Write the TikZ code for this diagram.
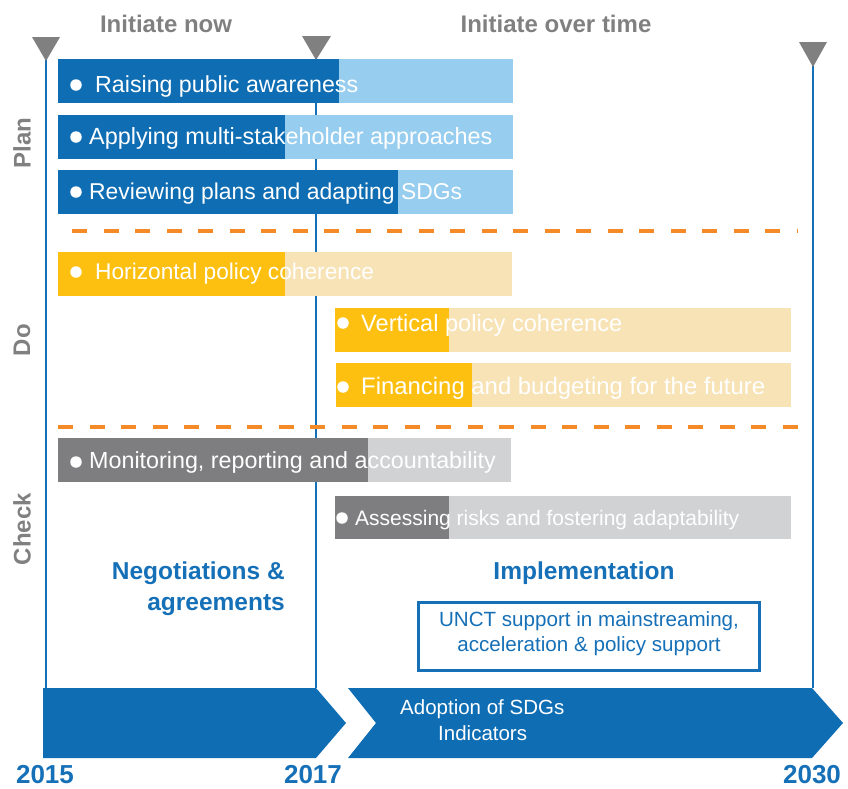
\documentclass[tikz,border=0pt]{standalone}
\usepackage{fontspec}
\setmainfont{Liberation Sans}
\definecolor{dblue}{HTML}{0F6DB3}
\definecolor{lblue}{HTML}{97CDEF}
\definecolor{dyel}{HTML}{FDC010}
\definecolor{lyel}{HTML}{F7E3B6}
\definecolor{dgray}{HTML}{7E7E80}
\definecolor{lgray}{HTML}{D1D2D4}
\definecolor{orng}{HTML}{F58A29}
\definecolor{labgray}{HTML}{808080}
\definecolor{tblue}{HTML}{1570B7}
\newcommand\fs[1]{\fontsize{#1}{#1}\selectfont}
\tikzset{
  bartext/.style={anchor=base west, text=white, inner sep=0pt},
  bullet/.style={circle, fill=white, inner sep=0pt, minimum size=11.5pt},
  vline/.style={draw=tblue, line width=2.6pt},
  marker/.style={fill=labgray},
  sep/.style={draw=orng, line width=4pt, dash pattern=on 15pt off 16.5pt},
  toplabel/.style={text=labgray, font=\bfseries\fs{24}, inner sep=0pt},
  sidelabel/.style={text=labgray, font=\bfseries\fs{24}, rotate=90, inner sep=0pt},
  bluehead/.style={text=tblue, font=\bfseries\fs{24.5}, inner sep=0pt},
  year/.style={text=tblue, font=\bfseries\fs{26}, anchor=base, inner sep=0pt},
  arrowtext/.style={text=white, font=\fs{20.5}, anchor=base west, inner sep=0pt},
}
\begin{document}
\begin{tikzpicture}[x=1pt,y=-1pt]
\useasboundingbox (0,0) rectangle (848,788);

% vertical time lines
\coordinate (l15t) at (46,58);  \coordinate (l15b) at (46,688);
\coordinate (l17t) at (316,58); \coordinate (l17b) at (316,688);
\coordinate (l30t) at (813,64); \coordinate (l30b) at (813,688);
\draw[vline] (l15t) -- (l15b);
\draw[vline] (l17t) -- (l17b);
\draw[vline] (l30t) -- (l30b);

% markers
\fill[marker] (32,37) -- (60,37) -- (46,61) -- cycle;
\fill[marker] (302,36) -- (331,36) -- (316,60) -- cycle;
\fill[marker] (799,42) -- (827,42) -- (813,67) -- cycle;

% top labels
\node[toplabel] (now) at (166,24) {Initiate now};
\node[toplabel] (over) at (556,24) {Initiate over time};

% side labels
\node[sidelabel] (plan) at (22,143) {Plan};
\node[sidelabel] (do) at (22,340) {Do};
\node[sidelabel] (check) at (22,529) {Check};

% Plan bars
\fill[lblue] (58,59) rectangle (513,103);  \fill[dblue] (58,59) rectangle (339,103);
\fill[lblue] (58,115) rectangle (513,159); \fill[dblue] (58,115) rectangle (285,159);
\fill[lblue] (58,170) rectangle (513,214); \fill[dblue] (58,170) rectangle (398,214);
\node[bullet] (b1) at (76,85) {};
\node[bartext, font=\fs{23.2}] (t1) at (95,92) {Raising public awareness};
\node[bullet] (b2) at (76,137) {};
\node[bartext, font=\fs{23.4}] (t2) at (89,144) {Applying multi-stakeholder approaches};
\node[bullet] (b3) at (76,192) {};
\node[bartext, font=\fs{22.9}] (t3) at (89,199) {Reviewing plans and adapting SDGs};

% separator 1
\coordinate (s1a) at (72,231); \coordinate (s1b) at (798,231);
\draw[sep] (s1a) -- (s1b);

% Do bars
\fill[lyel] (58,252) rectangle (512,296);  \fill[dyel] (58,252) rectangle (285,296);
\fill[lyel] (335,308) rectangle (791,352); \fill[dyel] (335,308) rectangle (449,352);
\fill[lyel] (336,363) rectangle (791,407); \fill[dyel] (336,363) rectangle (472,407);
\node[bullet] (b4) at (76,272) {};
\node[bartext, font=\fs{22.7}] (t4) at (95,279) {Horizontal policy coherence};
\node[bullet] (b5) at (343,323) {};
\node[bartext, font=\fs{23.6}] (t5) at (361,331) {Vertical policy coherence};
\node[bullet] (b6) at (343,387) {};
\node[bartext, font=\fs{23.9}] (t6) at (361,394) {Financing and budgeting for the future};

% separator 2
\coordinate (s2a) at (58,427); \coordinate (s2b) at (802,427);
\draw[sep] (s2a) -- (s2b);

% Check bars
\fill[lgray] (58,438) rectangle (511,482);  \fill[dgray] (58,438) rectangle (368,482);
\fill[lgray] (335,496) rectangle (791,539);  \fill[dgray] (335,496) rectangle (449,539);
\node[bullet] (b7) at (76,462) {};
\node[bartext, font=\fs{23.3}] (t7) at (89,468) {Monitoring, reporting and accountability};
\node[bullet] (b8) at (342,518) {};
\node[bartext, font=\fs{21}] (t8) at (355,525) {Assessing risks and fostering adaptability};

% phase headings
\node[bluehead, anchor=base east] (neg1) at (285,579) {Negotiations \&};
\node[bluehead, anchor=base east] (neg2) at (285,610) {agreements};
\node[bluehead, anchor=base] (impl) at (584,579) {Implementation};

% UNCT box
\node[draw=tblue, line width=2.4pt, minimum width=341pt, minimum height=68pt, inner sep=0pt] (unct) at (589,636.5) {};
\node[text=tblue, font=\fs{20.6}, anchor=base, inner sep=0pt] (u1) at (589,626) {UNCT support in mainstreaming,};
\node[text=tblue, font=\fs{20.6}, anchor=base, inner sep=0pt] (u2) at (589,651) {acceleration \& policy support};

% bottom arrows
\fill[dblue] (43,688) -- (316,688) -- (346,723) -- (316,758) -- (43,758) -- cycle;
\fill[dblue] (348,688) -- (812,688) -- (843,723) -- (812,758) -- (348,758) -- (376,723) -- cycle;
\node[arrowtext] (adopt) at (400,714) {Adoption of SDGs};
\node[arrowtext] (ind) at (438,740) {Indicators};

% years
\node[year] (y15) at (45,783) {2015};
\node[year] (y17) at (313,783) {2017};
\node[year] (y30) at (812,783) {2030};
\end{tikzpicture}
\end{document}
